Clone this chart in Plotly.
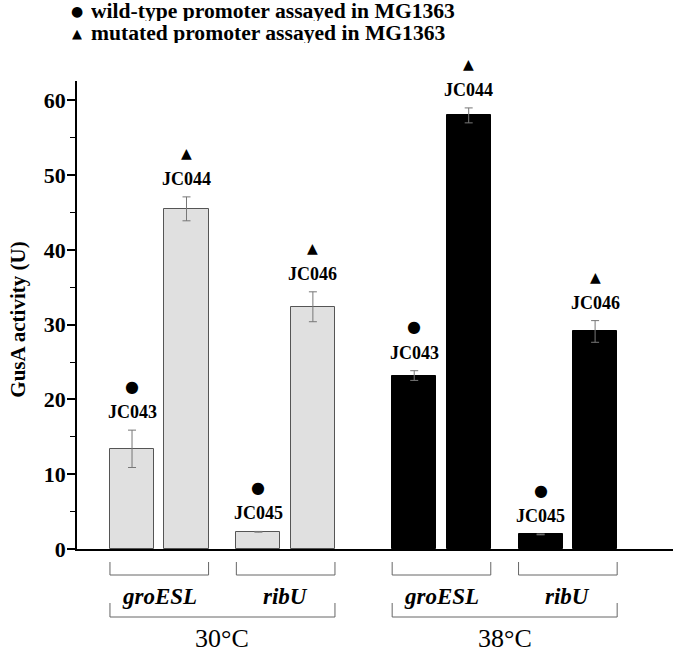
import plotly.graph_objects as go

# ---- data ----
temperatures = ["30°C", "38°C"]
promoters = ["groESL", "ribU"]
strains = ["JC043", "JC044", "JC045", "JC046"]
promoter_types = ["wild", "mutated", "wild", "mutated"]
values_30 = [13.4, 45.5, 2.3, 32.4]
errors_30 = [2.5, 1.6, 0.05, 2.0]
values_38 = [23.2, 58.0, 1.95, 29.1]
errors_38 = [0.65, 1.0, 0.05, 1.45]
y_ticks = [0, 10, 20, 30, 40, 50, 60]
legend_labels = ["wild-type promoter assayed in MG1363", "mutated promoter assayed in MG1363"]

# ---- layout constants ----
TEMP_STEP = 5.18
PROM_STEP = 2.32
BAR_W = 0.81
PLOT_H = 468.0
PLOT_W = 596.0
FONT = "Liberation Serif"
BRACKET = "#666666"

def positions(t):
    return [t * TEMP_STEP + (i // 2) * PROM_STEP + (i % 2) for i in range(4)]

fig = go.Figure()
series = [(values_30, errors_30, "#e0e0e0", "#555555"), (values_38, errors_38, "#000000", "#000000")]
annotations = []
shapes = []

def py(px):
    return -px / PLOT_H

for t, (vals, errs, fill, line) in enumerate(series):
    xs = positions(t)
    fig.add_trace(go.Bar(
        x=xs, y=vals, width=BAR_W,
        marker=dict(color=fill, line=dict(color=line, width=1)),
        error_y=dict(type="data", array=errs, color="#777777", thickness=1, width=4),
        showlegend=False, hoverinfo="skip",
    ))
    for x, v, e, s, pt in zip(xs, vals, errs, strains, promoter_types):
        annotations.append(dict(x=x, y=v + e, xref="x", yref="y", text="<b>%s</b>" % s,
                                showarrow=False, yanchor="middle", yshift=18,
                                font=dict(family=FONT, size=18, color="black")))
        sym = "●" if pt == "wild" else "▲"
        annotations.append(dict(x=x, y=v + e, xref="x", yref="y", text=sym,
                                showarrow=False, yanchor="middle", yshift=44,
                                font=dict(family="DejaVu Sans", size=16 if pt == "wild" else 14, color="black")))
    # promoter brackets
    for p in range(2):
        x0 = xs[2 * p] - BAR_W / 2
        x1 = xs[2 * p + 1] + BAR_W / 2
        for seg in [(x0, py(13), x0, py(26)), (x0, py(26), x1, py(26)), (x1, py(26), x1, py(13))]:
            shapes.append(dict(type="line", xref="x", yref="paper", x0=seg[0], y0=seg[1], x1=seg[2], y1=seg[3],
                               line=dict(color=BRACKET, width=1)))
        annotations.append(dict(x=(x0 + x1) / 2, y=py(47), xref="x", yref="paper",
                                text="<b><i>%s</i></b>" % promoters[p], showarrow=False, yanchor="middle",
                                font=dict(family=FONT, size=23, color="black")))
    # temperature bracket
    x0 = xs[0] - BAR_W / 2
    x1 = xs[3] + BAR_W / 2
    for seg in [(x0, py(54), x0, py(68)), (x0, py(68), x1, py(68)), (x1, py(68), x1, py(54))]:
        shapes.append(dict(type="line", xref="x", yref="paper", x0=seg[0], y0=seg[1], x1=seg[2], y1=seg[3],
                           line=dict(color=BRACKET, width=1)))
    annotations.append(dict(x=(x0 + x1) / 2, y=py(89), xref="x", yref="paper",
                            text=temperatures[t], showarrow=False, yanchor="middle",
                            font=dict(family=FONT, size=26, color="black")))

# legend (top-left text lines)
for i, (sym, lab) in enumerate(zip(["●", "▲"], legend_labels)):
    ypos = (549 - (11 + 22 * i)) / PLOT_H
    annotations.append(dict(x=0.0, y=ypos, xref="paper", yref="paper", text=sym, showarrow=False,
                            xanchor="center", yanchor="middle", height=20, borderpad=0,
                            font=dict(family="DejaVu Sans", size=14 if i == 0 else 13, color="black")))
    annotations.append(dict(x=13 / PLOT_W, y=ypos, xref="paper", yref="paper", text="<b>%s</b>" % lab,
                            showarrow=False, xanchor="left", yanchor="middle", height=20, borderpad=0,
                            font=dict(family=FONT, size=21.6, color="black")))

# y-axis title
annotations.append(dict(x=-59 / PLOT_W, y=0.49, xref="paper", yref="paper", text="<b>GusA activity (U)</b>",
                        textangle=-90, showarrow=False, xanchor="center", yanchor="middle",
                        font=dict(family=FONT, size=21, color="black")))

fig.update_layout(
    width=675, height=654,
    margin=dict(l=77, r=2, t=81, b=105, pad=0, autoexpand=False),
    plot_bgcolor="white", paper_bgcolor="white",
    bargap=0,
    shapes=shapes, annotations=annotations,
    xaxis=dict(range=[-1.01, 9.93], autorange=False, showgrid=False, zeroline=False, showticklabels=False,
               ticks="", automargin=False,
               showline=True, linecolor="black", linewidth=1.5, fixedrange=True),
    yaxis=dict(range=[0, 62.6], autorange=False, tickvals=y_ticks, ticktext=["<b>%d</b>" % v for v in y_ticks],
               ticks="outside", ticklen=8, tickwidth=1.5, tickcolor="black", automargin=False,
               minor=dict(dtick=5, ticks="outside", ticklen=5, tickwidth=1.2, tickcolor="black"),
               showgrid=False, zeroline=False, showline=True, linecolor="black", linewidth=1.5,
               ticklabelstandoff=-3,
               tickfont=dict(family=FONT, size=22, color="black")),
)

fig.write_html("out.html", config={"displayModeBar": False},
               post_script="document.body.style.margin='0';document.body.style.padding='0';")
